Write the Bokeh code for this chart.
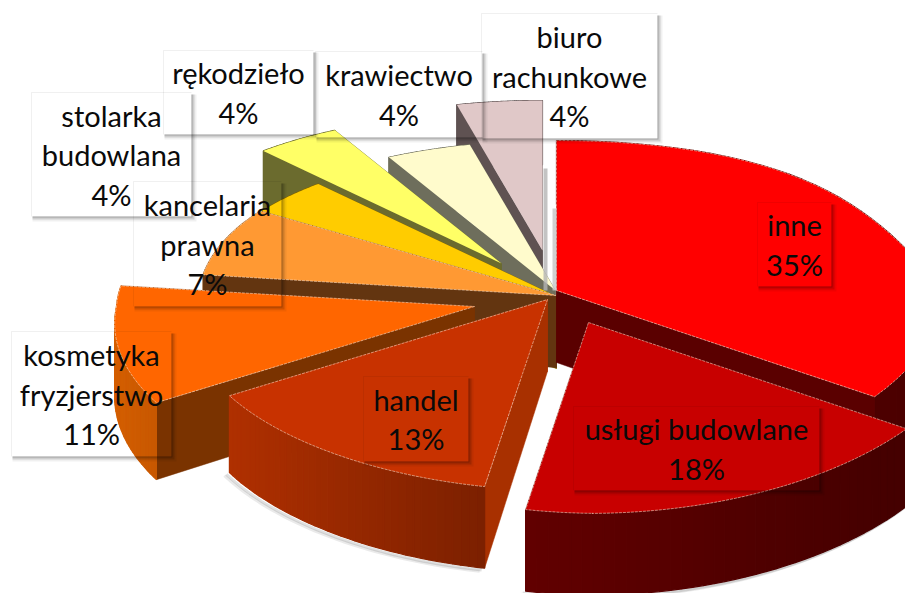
import math
from bokeh.plotting import figure
from bokeh.core.properties import value
from bokeh.embed import file_html
from bokeh.resources import INLINE

categories = ["inne", "usługi budowlane", "handel", "kosmetyka\nfryzjerstwo", "kancelaria\nprawna",
              "stolarka\nbudowlana", "rękodzieło", "krawiectwo", "biuro\nrachunkowe"]
values = [35, 18, 13, 11, 7, 4, 4, 4, 4]

# styling / layout, one entry per category
top_colors = ["#FF0000", "#C80000", "#C83200", "#FF6600", "#FF9933", "#FFCC00", "#FFFF66", "#FFFBCC", "#E0C8C8"]
face_colors = ["#5A0000", "#500000", "#A83000", "#7A3300", "#633510", "#806600", "#6B6B2E", "#6E6E5C", "#5F5252"]
wall_from = ["#5A0000", "#620000", "#B03000", "#D45E00", "#A06020", "#806600", "#6B6B2E", "#6E6E5C", "#5F5252"]
wall_to = ["#4A0000", "#440000", "#7C2000", "#C85800", "#A06020", "#806600", "#6B6B2E", "#6E6E5C", "#5F5252"]
tips = [(556, 290), (588, 322), (547, 299), (474, 306), (556, 295), (556, 296), (501, 263), (555, 290), (542, 250)]
boxes = [(757, 202, 831, 286), (573, 406, 819, 490), (363, 376, 468, 461), (11, 331, 171, 456), (133, 181, 281, 306),
         (31, 92, 191, 216), (163, 50, 313, 134), (315, 51, 482, 137), (481, 13, 657, 138)]
draw_order = [8, 7, 6, 5, 4, 0, 3, 2, 1]
edged = {0, 1, 2, 3, 4}
R_RIGHT, R_LEFT, RK, DEPTH = 384, 358, 168, 72

p = figure(width=905, height=593, x_range=(0, 905), y_range=(593, 0), output_backend="svg",
           toolbar_location=None, min_border=0, background_fill_color="white", border_fill_color="white")
p.axis.visible = False
p.grid.visible = False
p.outline_line_color = None


def proj(a, tip, z=0.0):
    X, Y = math.sin(a), math.cos(a)
    sx, sy = 1 / (1 + 0.04 * Y), 1 / (1 + 0.12 * Y)
    if X >= 0:
        r = R_RIGHT - (100 * Y * (1 - Y) if Y > 0 else 0)
    else:
        r = R_LEFT + (22 * (-Y) if Y < 0 else 0)
    skew = 12 * Y ** 4 if (Y < 0 and X < 0) else 0
    return tip[0] + r * X * sx + skew, tip[1] - RK * Y * sy + z * DEPTH * sy


def mix(c1, c2, t):
    a = [int(c1[i:i + 2], 16) for i in (1, 3, 5)]
    b = [int(c2[i:i + 2], 16) for i in (1, 3, 5)]
    return "#%02x%02x%02x" % tuple(round(u + (v - u) * t) for u, v in zip(a, b))


# slice angles from the values
total = sum(values)
angles, acc = [], 0
for v in values:
    angles.append((acc / total * 2 * math.pi, (acc + v) / total * 2 * math.pi))
    acc += v


def arc(a0, a1, tip, z=0.0, n=50):
    return [proj(a0 + (a1 - a0) * i / n, tip, z) for i in range(n + 1)]


# thin shadows behind the exploded pieces
for i in (2, 1):
    a0, a1 = angles[i]
    low = arc(a0, a1, tips[i], 1)
    for off, alpha in ((5, 0.12), (3, 0.18)):
        p.line([q[0] - off for q in low], [q[1] + off * 0.6 for q in low], line_color="#555555",
               line_width=3, line_alpha=alpha)
    st = proj(a0, tips[i], 1)
    p.line([st[0] - 5, tips[i][0] - 5], [st[1], tips[i][1] + DEPTH], line_color="#777777", line_width=5, line_alpha=0.25)


def draw_faces(i, a0, a1, tip):
    tx, ty = tip
    for a in (a1, a0):
        e0, e1 = proj(a, tip), proj(a, tip, 1)
        p.patch([tx, e0[0], e1[0], tx], [ty, e0[1], e1[1], ty + DEPTH], fill_color=face_colors[i],
                line_color=face_colors[i], line_width=0.5)


def draw_wall(i, a0, a1, tip):
    # outer wall in strips, with a horizontal gradient
    n = 40
    up, lo = arc(a0, a1, tip, 0, n), arc(a0, a1, tip, 1, n)
    xs_all = [q[0] for q in up]
    xmin, xmax = min(xs_all), max(xs_all)
    for k in range(n):
        t = (up[k][0] - xmin) / max(xmax - xmin, 1)
        c = mix(wall_from[i], wall_to[i], t)
        p.patch([up[k][0], up[k + 1][0], lo[k + 1][0], lo[k][0]], [up[k][1], up[k + 1][1], lo[k + 1][1], lo[k][1]],
                fill_color=c, line_color=c, line_width=1.2)


for i in draw_order:
    a0, a1 = angles[i]
    tip = tips[i]
    if math.cos((a0 + a1) / 2) < 0:
        draw_faces(i, a0, a1, tip)
        draw_wall(i, a0, a1, tip)
    else:
        draw_wall(i, a0, a1, tip)
        draw_faces(i, a0, a1, tip)
    # top surface
    up = arc(a0, a1, tip, 0, 40)
    xs = [tip[0]] + [q[0] for q in up] + [tip[0]]
    ys = [tip[1]] + [q[1] for q in up] + [tip[1]]
    p.patch(xs, ys, fill_color=top_colors[i], line_color=None)
    if i in edged:
        p.line(xs, ys, line_color="#FFE6D2", line_width=1, line_alpha=0.55, line_dash="3 1")

# pale slivers next to the top slice
bt = tips[8]
for dx0, dx1, y0, col in ((1, 5, -82, "#B4B4B4"), (10, 14, -42, "#C4C4C4")):
    p.quad(left=bt[0] + dx0, right=bt[0] + dx1, top=bt[1] + y0, bottom=bt[1] + 40, fill_color=col, line_color=None, fill_alpha=0.8)

# label boxes are see-through: only their soft shadow shows
for (x0, y0, x1, y1) in boxes:
    for off, alpha in ((1, 0.22), (3, 0.14), (5, 0.06)):
        p.quad(left=x0 + 1, right=x1 + off, top=y1, bottom=y1 + off, fill_color="black", fill_alpha=alpha, line_color=None)
        p.quad(left=x1, right=x1 + off, top=y0 + 2, bottom=y1, fill_color="black", fill_alpha=alpha, line_color=None)
    p.line([x0, x0, x1], [y1, y0, y0], line_color="black", line_alpha=0.06, line_width=1)

# labels
LINE = 39.5
for name, v, (x0, y0, x1, y1) in zip(categories, values, boxes):
    lines = name.split("\n") + [f"{v}%"]
    cx, cy = (x0 + x1) / 2, (y0 + y1) / 2
    for j, s in enumerate(lines):
        p.text([cx], [cy + (j - (len(lines) - 1) / 2) * LINE], text=[s], text_align="center", text_baseline="middle",
               text_font=value("Lato"), text_font_size="29px", text_color="#0a0a0a")

open("out.html", "w").write(file_html(p, INLINE))
